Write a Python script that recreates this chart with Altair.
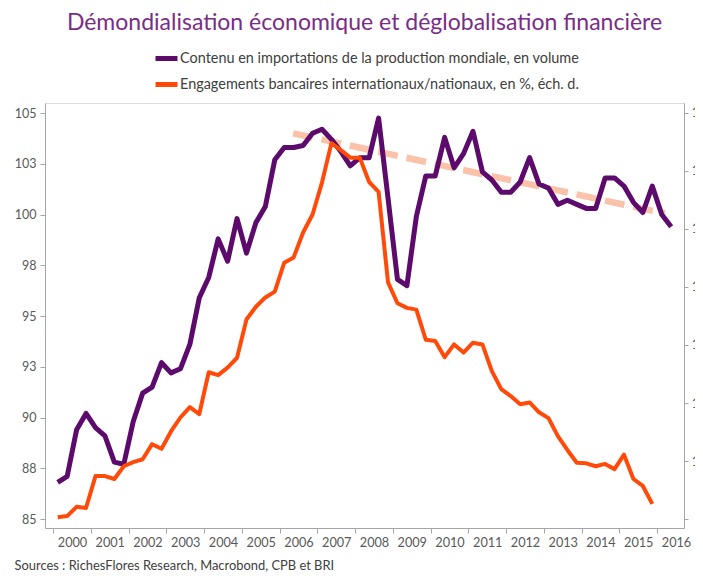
import altair as alt
import pandas as pd

# ---------------- data ----------------
S1 = "Contenu en importations de la production mondiale, en volume"
S2 = "Engagements bancaires internationaux/nationaux, en %, éch. d."

first_year = 2000  # quarterly series starting 2000 Q1

# import content of world production (left axis), 2000Q1 .. 2016Q2
import_content = [
    86.8, 87.1, 89.4, 90.2, 89.5, 89.1, 87.8, 87.7,
    89.8, 91.2, 91.5, 92.7, 92.2, 92.4, 93.6, 95.9,
    96.9, 98.8, 97.7, 99.8, 98.1, 99.6, 100.4, 102.7,
    103.3, 103.3, 103.4, 104.0, 104.2, 103.7, 103.1, 102.4,
    102.8, 102.8, 104.75, 100.8, 96.8, 96.5, 99.9, 101.9,
    101.9, 103.8, 102.3, 103.0, 104.1, 102.1, 101.7, 101.1,
    101.1, 101.6, 102.8, 101.5, 101.3, 100.5, 100.7, 100.5,
    100.3, 100.3, 101.8, 101.8, 101.4, 100.6, 100.1, 101.4,
    100.0, 99.4,
]

# international / domestic bank claims, % (right axis), 2000Q1 .. 2015Q4
bank_ratio = [
    90.3, 90.5, 92.1, 91.9, 97.4, 97.4, 96.9, 99.1,
    99.8, 100.3, 102.9, 102.1, 105.1, 107.5, 109.3, 108.1,
    115.3, 114.8, 116.1, 117.8, 124.4, 126.6, 128.2, 129.2,
    134.2, 135.1, 139.4, 142.5, 148.0, 154.8, 153.6, 152.3,
    152.3, 148.1, 146.4, 130.8, 127.2, 126.4, 126.1, 120.9,
    120.7, 117.9, 120.1, 118.7, 120.4, 120.1, 115.5, 112.4,
    111.2, 109.8, 110.1, 108.4, 107.4, 104.3, 101.9, 99.7,
    99.6, 99.1, 99.5, 98.6, 101.1, 96.9, 95.7, 92.6,
]

# dashed trend on the left axis (time in years, value)
trend_time = [2006.36, 2016.21]
trend_value = [104.0, 100.05]

year_ticks = list(range(2000, 2017))
left_ticks = [85, 87.5, 90, 92.5, 95, 97.5, 100, 102.5, 105]
right_ticks = [90, 100, 110, 120, 130, 140, 150, 160]

SOURCE = "Sources : RichesFlores Research, Macrobond, CPB et BRI"
TITLE = "Démondialisation économique et déglobalisation financière"


def quarter_time(k):
    # middle of quarter k counted from first_year Q1
    return first_year + (k + 0.5) / 4


df_imp = pd.DataFrame({
    "t": [quarter_time(k) for k in range(len(import_content))],
    "v": import_content,
    "series": S1,
})
df_bank = pd.DataFrame({
    "t": [quarter_time(k) for k in range(len(bank_ratio))],
    "v": bank_ratio,
    "series": S2,
})
df_trend = pd.DataFrame({"t": trend_time, "v": trend_value})

# ---------------- styling ----------------
PURPLE = "#5C0A6B"
ORANGE = "#FF4A0A"
TREND = "#F9C2A9"
AXIS_GREY = "#A6A6A6"
LABEL_GREY = "#595959"
FONT = "Lato"

x_scale = alt.Scale(domain=[1999.788, 2016.715], nice=False, zero=False)
left_scale = alt.Scale(domain=[84.557, 105.493], nice=False, zero=False)
right_scale = alt.Scale(domain=[88.45, 161.72], nice=False, zero=False)

x_axis = alt.Axis(
    values=year_ticks, format="d", labelOffset=19, labelFlush=False,
    labelOverlap=False, tickSize=5, labelPadding=3, grid=False,
    domainColor=AXIS_GREY, tickColor=AXIS_GREY, labelColor=LABEL_GREY,
    labelFontSize=12.7, labelFont=FONT,
    title=SOURCE, titleX=-31, titleY=41, titleAlign="left",
    titleAnchor="start", titleBaseline="alphabetic", titleFontWeight="normal",
    titleFontSize=12.9, titleColor="#404040", titleFont=FONT,
)
x_enc = alt.X("t:Q", scale=x_scale, axis=x_axis)

left_axis = alt.Axis(
    orient="left", values=left_ticks, labelExpr="round(datum.value)",
    tickSize=5, labelPadding=4, grid=False, labelOverlap=False,
    domainColor=AXIS_GREY, tickColor=AXIS_GREY, labelColor=LABEL_GREY,
    labelFontSize=12.5, labelFont=FONT, title=None,
)
right_axis = alt.Axis(
    orient="right", values=right_ticks, format="d", labelAlign="right",
    tickSize=4, labelPadding=25, grid=False, labelOverlap=False,
    domainColor=AXIS_GREY, tickColor=AXIS_GREY, labelColor=LABEL_GREY,
    labelFontSize=12.5, labelFont=FONT, title=None,
)

color = alt.Color(
    "series:N",
    scale=alt.Scale(domain=[S1, S2], range=[PURPLE, ORANGE]),
    legend=alt.Legend(
        orient="none", legendX=108, legendY=-58, direction="vertical",
        title=None, symbolType="stroke", symbolSize=484, symbolStrokeWidth=5,
        labelFontSize=14.45, labelFont=FONT, labelColor="#404040",
        rowPadding=2, labelOffset=0, labelLimit=700, padding=0,
    ),
)

trend = alt.Chart(df_trend).mark_line(
    color=TREND, strokeWidth=6.5, strokeDash=[20, 9]
).encode(
    x=x_enc,
    y=alt.Y("v:Q", scale=left_scale, axis=None),
)

imp = alt.Chart(df_imp).mark_line(strokeWidth=5, strokeJoin="round").encode(
    x=x_enc,
    y=alt.Y("v:Q", scale=left_scale, axis=left_axis),
    color=color,
)

bank = alt.Chart(df_bank).mark_line(strokeWidth=4, strokeJoin="round").encode(
    x=x_enc,
    y=alt.Y("v:Q", scale=right_scale, axis=right_axis),
    color=color,
)

chart = (
    alt.layer(trend, imp, bank)
    .resolve_scale(y="independent")
    .properties(
        width=639,
        height=425,
        autosize=alt.AutoSizeParams(type="none"),
        padding={"left": 37, "top": 95, "right": 11, "bottom": 44},
        title=alt.Title(
            text=TITLE, fontSize=23, font=FONT, color="#7B2C87",
            fontWeight="normal", anchor="middle", frame="group",
            baseline="alphabetic", offset=0, dy=8,
        ),
    )
    .configure_view(stroke=None)
    .configure(font=FONT)
)

chart.save("out.html", embed_options={"renderer": "svg", "actions": False})
